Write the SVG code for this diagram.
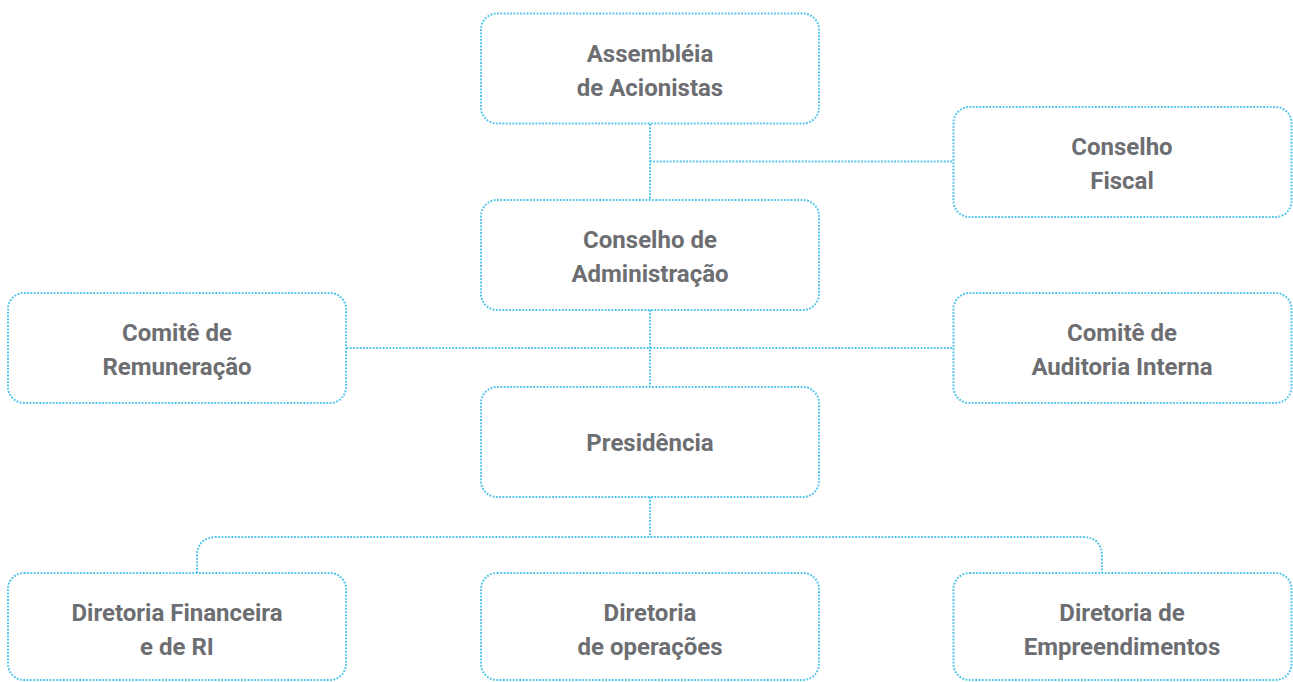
<svg xmlns="http://www.w3.org/2000/svg" width="1293" height="682" viewBox="0 0 1293 682">
<style>
.box{fill:#ffffff;stroke:#4fc4ec;stroke-width:2;stroke-dasharray:1.8 1.5}
.conn{fill:none;stroke:#4fc4ec;stroke-width:2;stroke-dasharray:1.8 1.5}
text{font-family:Roboto,"Liberation Sans",sans-serif;font-weight:bold;font-size:24px;fill:#6d6e71;text-anchor:middle}
</style>
<rect width="1293" height="682" fill="#ffffff"/>
<g id="connectors">
<path class="conn" d="M650 124 V200"/>
<path class="conn" d="M650 161.5 H953.5"/>
<path class="conn" d="M650 310 V387"/>
<path class="conn" d="M346.5 348 H953.5"/>
<path class="conn" d="M650 497 V537"/>
<path class="conn" d="M197 573 V557 Q197 537 217 537 H1082 Q1102 537 1102 557 V573"/>
</g>
<g id="assembleia">
<rect class="box" x="481" y="13.5" width="338" height="110" rx="16"/>
<text x="650" y="62">Assembléia</text>
<text x="650" y="96">de Acionistas</text>
</g>
<g id="conselho-fiscal">
<rect class="box" x="953.5" y="107" width="338" height="110" rx="16"/>
<text x="1122" y="155">Conselho</text>
<text x="1122" y="189">Fiscal</text>
</g>
<g id="conselho-administracao">
<rect class="box" x="481" y="200" width="338" height="110" rx="16"/>
<text x="650" y="248">Conselho de</text>
<text x="650" y="282">Administração</text>
</g>
<g id="comite-remuneracao">
<rect class="box" x="8" y="293" width="338" height="110" rx="16"/>
<text x="177" y="341">Comitê de</text>
<text x="177" y="375">Remuneração</text>
</g>
<g id="comite-auditoria">
<rect class="box" x="953.5" y="293" width="338" height="110" rx="16"/>
<text x="1122" y="341">Comitê de</text>
<text x="1122" y="375">Auditoria Interna</text>
</g>
<g id="presidencia">
<rect class="box" x="481" y="387" width="338" height="110" rx="16"/>
<text x="650" y="451">Presidência</text>
</g>
<g id="diretoria-financeira">
<rect class="box" x="8" y="573" width="338" height="107" rx="16"/>
<text x="177" y="621">Diretoria Financeira</text>
<text x="177" y="655">e de RI</text>
</g>
<g id="diretoria-operacoes">
<rect class="box" x="481" y="573" width="338" height="107" rx="16"/>
<text x="650" y="621">Diretoria</text>
<text x="650" y="655">de operações</text>
</g>
<g id="diretoria-empreendimentos">
<rect class="box" x="953.5" y="573" width="338" height="107" rx="16"/>
<text x="1122" y="621">Diretoria de</text>
<text x="1122" y="655">Empreendimentos</text>
</g>
</svg>
